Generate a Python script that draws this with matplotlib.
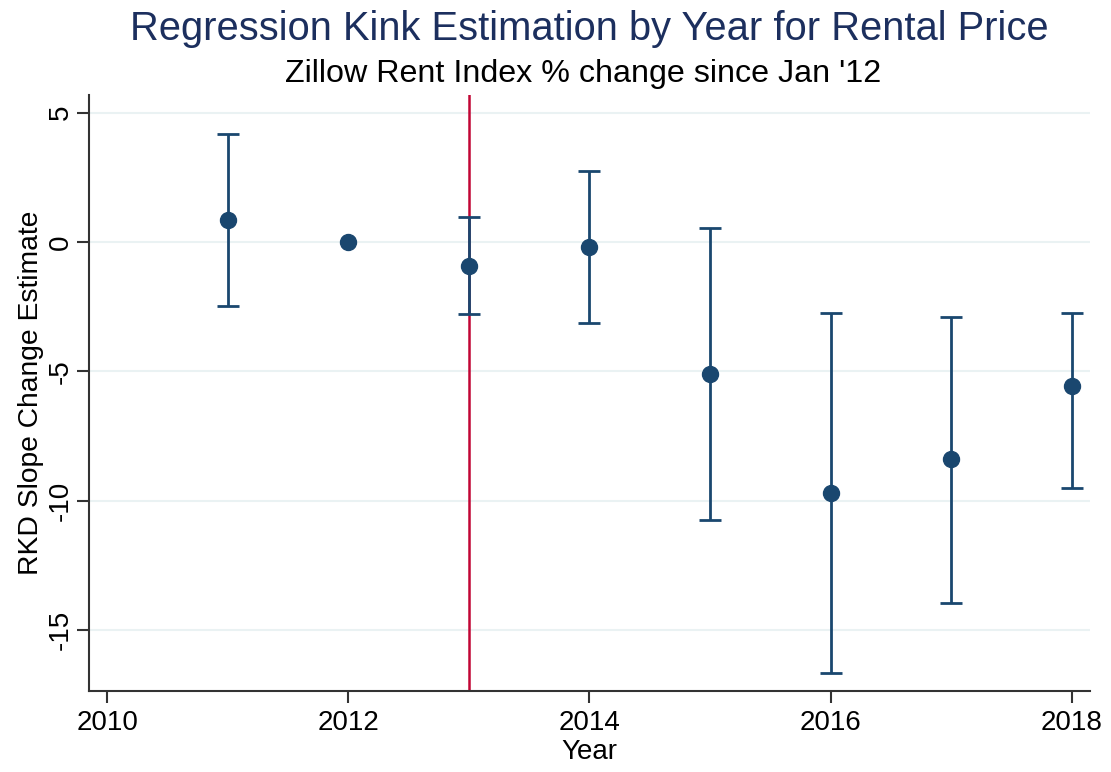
import matplotlib
matplotlib.use("Agg")
import matplotlib.pyplot as plt

years = [2011, 2012, 2013, 2014, 2015, 2016, 2017, 2018]
estimates = [0.85, 0.0, -0.93, -0.19, -5.10, -9.70, -8.39, -5.57]
ci_low = [-2.47, 0.0, -2.78, -3.13, -10.75, -16.66, -13.95, -9.51]
ci_high = [4.17, 0.0, 0.96, 2.74, 0.54, -2.74, -2.90, -2.74]
xticks = [2010, 2012, 2014, 2016, 2018]
yticks = [5, 0, -5, -10, -15]
event_year = 2013

plt.rcParams['font.family'] = ['Liberation Sans', 'DejaVu Sans']

navy = '#1a476f'
fig = plt.figure(figsize=(11.11, 7.72), dpi=100)
ax = fig.add_axes([0.0801, 0.1049, 0.9010, 0.7720])

ax.set_xlim(2009.85, 2018.15)
ax.set_ylim(-17.36, 5.68)

for yv in yticks:
    ax.axhline(yv, color='#eaf2f3', lw=1.5, zorder=0)

ax.axvline(event_year, color='#c10534', lw=1.8, zorder=1)

# error bars (skip zero-width)
for x, e, lo, hi in zip(years, estimates, ci_low, ci_high):
    if hi - lo > 0:
        ax.errorbar([x], [e], yerr=[[e - lo], [hi - e]], fmt='none',
                    ecolor=navy, elinewidth=2, capsize=8, capthick=2, zorder=2)
ax.plot(years, estimates, 'o', color=navy, markersize=11.5, zorder=3,
        linestyle='none')

ax.set_xticks(xticks)
ax.set_xticklabels([str(v) for v in xticks])
ax.set_yticks(yticks)
ax.set_yticklabels([str(v) for v in yticks], rotation=90, va='center')

for s in ['top', 'right']:
    ax.spines[s].set_visible(False)
for s in ['left', 'bottom']:
    ax.spines[s].set_color('#333333')
    ax.spines[s].set_linewidth(1.5)

ax.tick_params(axis='both', length=8.5, width=1.5, color='#333333',
               labelsize=20, labelcolor='black')
ax.tick_params(axis='x', pad=5)
ax.tick_params(axis='y', pad=2.5)

ax.set_xlabel('Year', fontsize=20, labelpad=2)
ax.set_ylabel('RKD Slope Change Estimate', fontsize=20.3, labelpad=3)

fig.text(0.530, 0.948, 'Regression Kink Estimation by Year for Rental Price',
         ha='center', va='baseline', fontsize=28.7, color='#1c2f5e')
fig.text(0.525, 0.894, "Zillow Rent Index % change since Jan '12",
         ha='center', va='baseline', fontsize=23.2, color='black')

fig.savefig('out.png', dpi=100, facecolor='white')
